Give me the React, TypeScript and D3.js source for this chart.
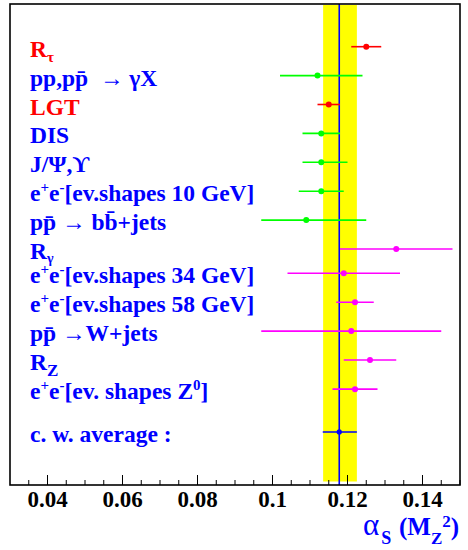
import React from "react";
import * as d3 from "d3";

const values = [0.125, 0.112, 0.115, 0.113, 0.113, 0.113, 0.109, 0.133, 0.119, 0.122, 0.121, 0.126, 0.122, 0.1178];
const errLow = [0.004, 0.010, 0.003, 0.005, 0.005, 0.006, 0.012, 0.015, 0.015, 0.005, 0.024, 0.007, 0.006, 0.0044];
const errHigh = [0.004, 0.012, 0.003, 0.005, 0.007, 0.006, 0.016, 0.015, 0.015, 0.005, 0.024, 0.007, 0.006, 0.0047];
const rows = [0, 1, 2, 3, 4, 5, 6, 7, 7.84, 8.84, 9.84, 10.84, 11.85, 13.33];
const pointColors = ["#ff0000", "#00ff00", "#ff0000", "#00ff00", "#00ff00", "#00ff00", "#00ff00", "#ff00ff", "#ff00ff", "#ff00ff", "#ff00ff", "#ff00ff", "#ff00ff", "#0000ff"];
const labelColors = ["#ff0000", "#0000ff", "#ff0000", "#0000ff", "#0000ff", "#0000ff", "#0000ff", "#0000ff", "#0000ff", "#0000ff", "#0000ff", "#0000ff", "#0000ff", "#0000ff"];
const band = [0.1135, 0.1225];
const average = 0.1178;
const majorTicks = [0.04, 0.06, 0.08, 0.1, 0.12, 0.14];
const tickLabels = ["0.04", "0.06", "0.08", "0.1", "0.12", "0.14"];

const FRAME = { left: 10, right: 460, top: 4, bottom: 485 };
const SERIF = "'Liberation Serif', 'Times New Roman', serif";

function ee(rest: React.ReactNode[]) {
  return [
    <tspan key="e1">e</tspan>,
    <tspan key="p" fontSize={15} dy={-9}>+</tspan>,
    <tspan key="e2" dy={9}>e</tspan>,
    <tspan key="m" fontSize={15} dy={-9}>-</tspan>,
    ...rest,
  ];
}

const labels: React.ReactNode[] = [
  [<tspan key="r">R</tspan>, <tspan key="t" fontSize={15} dy={5}>τ</tspan>],
  "pp,pp\u0304\u00a0 \u2192 \u03b3X",
  "LGT",
  "DIS",
  "J/\u03a8,\u03d2",
  ee([<tspan key="x" dy={9}>[ev.shapes 10 GeV]</tspan>]),
  "pp\u0304 \u2192 bb\u0304+jets",
  [<tspan key="r">R</tspan>, <tspan key="t" fontSize={14} dy={4}>γ</tspan>],
  ee([<tspan key="x" dy={9}>[ev.shapes 34 GeV]</tspan>]),
  ee([<tspan key="x" dy={9}>[ev.shapes 58 GeV]</tspan>]),
  "pp\u0304 \u2192W+jets",
  [<tspan key="r">R</tspan>, <tspan key="t" fontSize={17} dy={6}>Z</tspan>],
  ee([
    <tspan key="x" dy={9}>[ev. shapes Z</tspan>,
    <tspan key="z" fontSize={15} dy={-9}>0</tspan>,
    <tspan key="y" dy={9}>]</tspan>,
  ]),
  "c. w. average :",
];

export default function App() {
  const x = d3.scaleLinear().domain([0.03, 0.15]).range([FRAME.left, FRAME.right]);
  const y = d3.scaleLinear().domain([0, 1]).range([46.7, 75.6]);
  const minor = d3.range(0.035, 0.1501, 0.005);

  return (
    <svg width={468} height={550} style={{ position: "absolute", left: 0, top: 0 }}>
      <rect x={0} y={0} width={468} height={550} fill="#fff" />
      <rect
        x={x(band[0])}
        y={FRAME.top + 1}
        width={x(band[1]) - x(band[0])}
        height={481.5 - FRAME.top - 1}
        fill="#ffff00"
      />
      <line x1={x(average)} x2={x(average)} y1={FRAME.top} y2={FRAME.bottom} stroke="#0000ff" strokeWidth={1.6} />
      {values.map((v, i) => (
        <g key={i}>
          <line
            x1={x(v - errLow[i])}
            x2={x(v + errHigh[i])}
            y1={y(rows[i])}
            y2={y(rows[i])}
            stroke={pointColors[i]}
            strokeWidth={1.6}
          />
          <circle cx={x(v)} cy={y(rows[i])} r={i === 13 ? 2.6 : 3} fill={pointColors[i]} />
          <text
            x={30}
            y={y(rows[i]) + 10}
            fill={labelColors[i]}
            fontFamily={SERIF}
            fontWeight="bold"
            fontSize={23.5}
            style={{ whiteSpace: "pre" }}
          >
            {labels[i]}
          </text>
        </g>
      ))}
      <rect
        x={FRAME.left}
        y={FRAME.top}
        width={FRAME.right - FRAME.left}
        height={FRAME.bottom - FRAME.top}
        fill="none"
        stroke="#000"
        strokeWidth={1.6}
      />
      {minor.map((t, i) => (
        <line key={"m" + i} x1={x(t)} x2={x(t)} y1={FRAME.bottom} y2={FRAME.bottom - 5} stroke="#000" strokeWidth={1} />
      ))}
      {majorTicks.map((t, i) => (
        <g key={"t" + i}>
          <line x1={x(t)} x2={x(t)} y1={FRAME.bottom} y2={FRAME.bottom - 10} stroke="#000" strokeWidth={1} />
          <text
            x={x(t)}
            y={507}
            textAnchor="middle"
            fontFamily={SERIF}
            fontWeight="bold"
            fontSize={23}
            fill="#000"
          >
            {tickLabels[i]}
          </text>
        </g>
      ))}
      <text
        x={363}
        y={535}
        fill="#0000ff"
        fontFamily={SERIF}
        fontWeight="bold"
        fontSize={25}
      >
        <tspan fontWeight="normal" fontSize={31}>α</tspan>
        <tspan fontSize={18} dx={2} dy={9}>S</tspan>
        <tspan x={399} dy={-9}>(M</tspan>
        <tspan fontSize={17} dy={9}>Z</tspan>
        <tspan fontSize={17} dy={-17}>2</tspan>
        <tspan dy={8}>)</tspan>
      </text>
    </svg>
  );
}
